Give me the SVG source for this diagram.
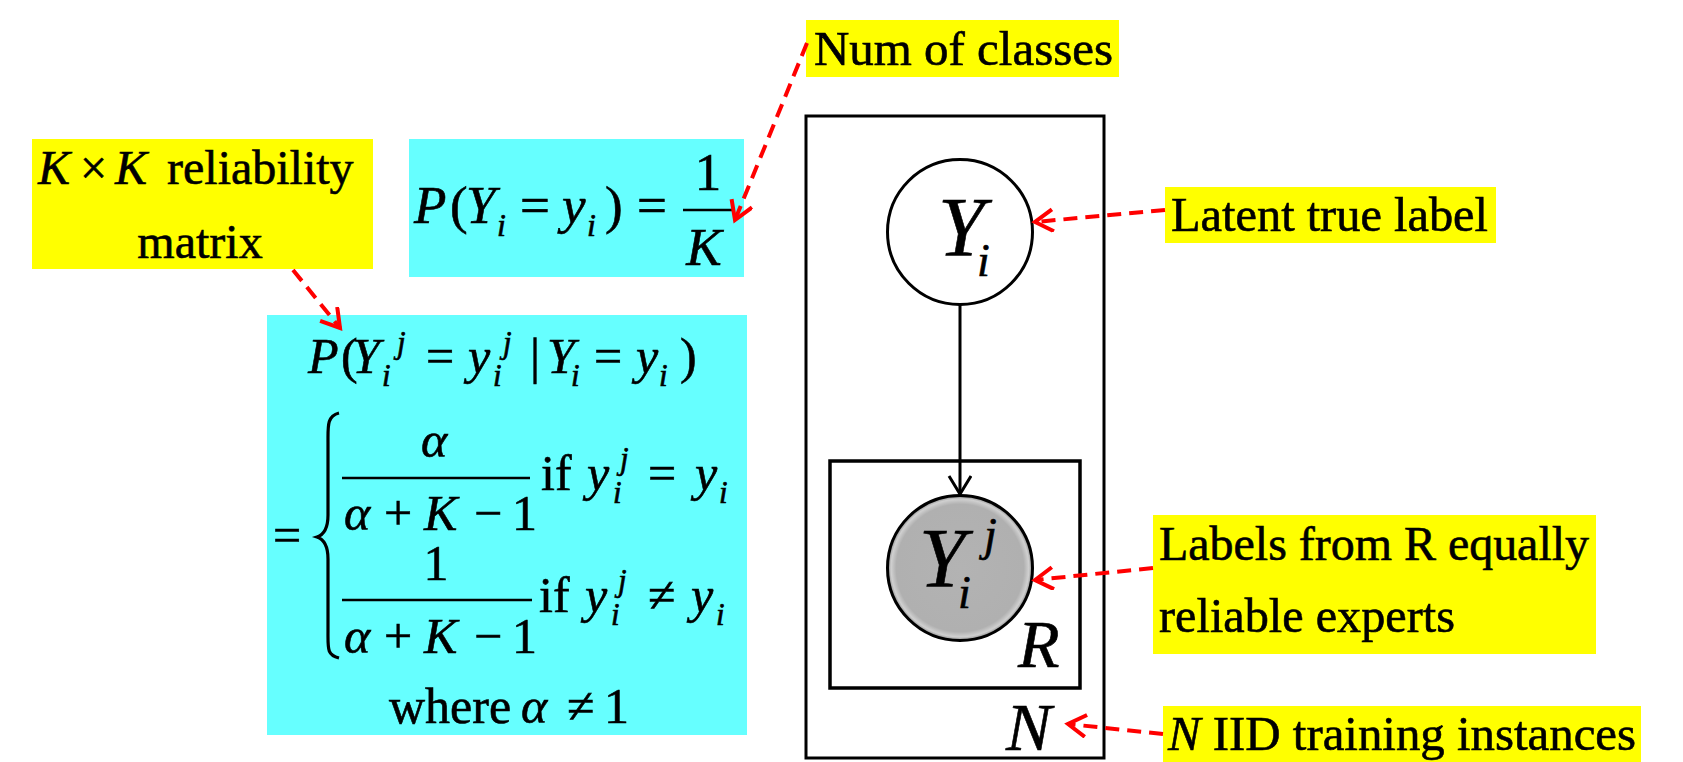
<svg xmlns="http://www.w3.org/2000/svg" width="1683" height="762" viewBox="0 0 1683 762">
<style>
.t{font-family:"Liberation Serif","Times New Roman",serif;fill:#000;stroke:#000;stroke-width:0.6}
.i{font-style:italic}
.lab{font-size:48px}
.m{font-size:50px}
.s{font-size:31px}
.yel{fill:#ffff00}
.cy{fill:#66ffff}
.plate{fill:none;stroke:#000;stroke-width:3.5}
.red{fill:none;stroke:#ff0000;stroke-width:4;stroke-dasharray:14 8}
.frac{stroke:#000;stroke-width:2.4}
</style>
<defs>
<marker id="ra" markerUnits="userSpaceOnUse" markerWidth="30" markerHeight="30" refX="20" refY="12" orient="auto">
<path d="M2,1 L20,12 L2,23" fill="none" stroke="#ff0000" stroke-width="4"/>
</marker>
<marker id="ba" markerUnits="userSpaceOnUse" markerWidth="30" markerHeight="30" refX="20" refY="12" orient="auto">
<path d="M2,1 L20,12 L2,23" fill="none" stroke="#000" stroke-width="3"/>
</marker>
<radialGradient id="gg" cx="0.5" cy="0.5" r="0.5">
<stop offset="0" stop-color="#b3b3b3"/>
<stop offset="0.88" stop-color="#b0b0b0"/>
<stop offset="0.95" stop-color="#d0d0d0"/>
<stop offset="1" stop-color="#8a8a8a"/>
</radialGradient>
</defs>

<g id="kxk-label">
<rect class="yel" x="32" y="139" width="341" height="130"/>
<text class="t lab" y="184"><tspan class="i" x="38">K</tspan><tspan x="80">×</tspan><tspan class="i" x="115">K</tspan><tspan x="167">reliability</tspan></text>
<text class="t lab" x="200" y="258" text-anchor="middle">matrix</text>
</g>

<g id="prior-formula">
<rect class="cy" x="409" y="139" width="335" height="138"/>
<text class="t" style="font-size:53px"><tspan class="i" x="414" y="223">P</tspan><tspan x="450" y="223">(</tspan><tspan class="i" x="466" y="223">Y</tspan><tspan class="i" style="font-size:32px" x="497" y="236">i</tspan><tspan x="520" y="223">=</tspan><tspan class="i" x="562" y="223">y</tspan><tspan class="i" style="font-size:32px" x="587" y="236">i</tspan><tspan x="605" y="223">)</tspan><tspan x="637" y="223">=</tspan></text>
<line class="frac" x1="683" y1="210" x2="733" y2="210"/>
<text class="t" style="font-size:53px" x="708" y="190" text-anchor="middle">1</text>
<text class="t i" style="font-size:53px" x="704" y="265" text-anchor="middle">K</text>
</g>

<g id="num-classes-label">
<rect class="yel" x="806" y="20" width="313" height="57"/>
<text class="t lab" x="814" y="65" textLength="299" lengthAdjust="spacingAndGlyphs">Num of classes</text>
</g>

<g id="reliability-formula">
<rect class="cy" x="267" y="315" width="480" height="420"/>
<text class="t m"><tspan class="i" x="308" y="373">P</tspan><tspan x="341" y="373">(</tspan><tspan class="i" x="352" y="373">Y</tspan><tspan class="i s" x="382" y="386">i</tspan><tspan class="i s" x="397" y="353">j</tspan><tspan x="426" y="373">=</tspan><tspan class="i" x="468" y="373">y</tspan><tspan class="i s" x="493" y="386">i</tspan><tspan class="i s" x="503" y="353">j</tspan><tspan x="530" y="373">|</tspan><tspan class="i" x="547" y="373">Y</tspan><tspan class="i s" x="571" y="386">i</tspan><tspan x="594" y="373">=</tspan><tspan class="i" x="636" y="373">y</tspan><tspan class="i s" x="659" y="386">i</tspan><tspan x="680" y="373">)</tspan></text>

<text class="t m" x="273" y="552">=</text>
<path d="M339,413 C327,416 328,426 328,442 L328,515 C328,530 323,535 317,537 C323,539 328,544 328,559 L328,632 C328,649 327,655 339,658" fill="none" stroke="#000" stroke-width="3.2"/>

<text class="t i m" x="434" y="457" text-anchor="middle">α</text>
<line class="frac" x1="342" y1="478" x2="530" y2="478"/>
<text class="t m" y="530"><tspan class="i" x="344">α</tspan><tspan x="384">+</tspan><tspan class="i" x="424">K</tspan><tspan x="474">−</tspan><tspan x="512">1</tspan></text>
<text class="t m"><tspan x="541" y="490">if</tspan><tspan class="i" x="587" y="490">y</tspan><tspan class="i s" x="613" y="503">i</tspan><tspan class="i s" x="620" y="469">j</tspan><tspan x="648" y="490">=</tspan><tspan class="i" x="695" y="490">y</tspan><tspan class="i s" x="719" y="503">i</tspan></text>

<text class="t m" x="436" y="580" text-anchor="middle">1</text>
<line class="frac" x1="342" y1="600" x2="532" y2="600"/>
<text class="t m" y="653"><tspan class="i" x="344">α</tspan><tspan x="384">+</tspan><tspan class="i" x="424">K</tspan><tspan x="474">−</tspan><tspan x="512">1</tspan></text>
<text class="t m"><tspan x="539" y="612">if</tspan><tspan class="i" x="585" y="612">y</tspan><tspan class="i s" x="611" y="625">i</tspan><tspan class="i s" x="618" y="591">j</tspan><tspan x="648" y="612">≠</tspan><tspan class="i" x="691" y="612">y</tspan><tspan class="i s" x="716" y="625">i</tspan></text>

<text class="t m" y="723"><tspan x="389">where</tspan><tspan class="i" x="521">α</tspan><tspan x="567">≠</tspan><tspan x="604">1</tspan></text>
</g>

<g id="plate-N">
<rect class="plate" x="806" y="116" width="298" height="642" style="stroke-width:3"/>
<text class="t i" style="font-size:68px" x="1006" y="750">N</text>
</g>

<g id="plate-R">
<rect class="plate" x="830" y="461" width="250" height="227"/>
<text class="t i" style="font-size:68px" x="1018" y="667">R</text>
</g>

<g id="node-Yi">
<circle cx="960" cy="232" r="72.5" fill="#fff" stroke="#000" stroke-width="3"/>
<text class="t i"><tspan style="font-size:84px" x="938" y="256">Y</tspan><tspan style="font-size:46px" x="977" y="276">i</tspan></text>
</g>

<g id="node-Yij">
<circle cx="960" cy="568" r="72.5" fill="url(#gg)" stroke="#000" stroke-width="3"/>
<text class="t i"><tspan style="font-size:84px" x="919" y="587">Y</tspan><tspan style="font-size:46px" x="958" y="608">i</tspan><tspan style="font-size:46px" x="984" y="550">j</tspan></text>
</g>

<g id="latent-label">
<rect class="yel" x="1165" y="187" width="331" height="56"/>
<text class="t lab" x="1171" y="231" textLength="317" lengthAdjust="spacingAndGlyphs">Latent true label</text>
</g>

<g id="labels-label">
<rect class="yel" x="1153" y="515" width="443" height="139"/>
<text class="t lab" x="1159" y="560" textLength="430" lengthAdjust="spacingAndGlyphs">Labels from R equally</text>
<text class="t lab" x="1159" y="632" textLength="296" lengthAdjust="spacingAndGlyphs">reliable experts</text>
</g>

<g id="niid-label">
<rect class="yel" x="1163" y="706" width="478" height="56"/>
<text class="t lab" x="1168" y="750" textLength="468" lengthAdjust="spacingAndGlyphs"><tspan class="i">N</tspan> IID training instances</text>
</g>

<g id="connectors">
<line x1="960" y1="305" x2="960" y2="494" stroke="#000" stroke-width="3" marker-end="url(#ba)"/>
<line class="red" x1="807" y1="43" x2="735" y2="220" marker-end="url(#ra)"/>
<line class="red" x1="293" y1="270" x2="340" y2="328" marker-end="url(#ra)"/>
<line class="red" x1="1165" y1="210" x2="1035" y2="222" marker-end="url(#ra)"/>
<line class="red" x1="1153" y1="568" x2="1035" y2="580" marker-end="url(#ra)"/>
<line class="red" x1="1163" y1="734" x2="1068" y2="724" marker-end="url(#ra)"/>
</g>
</svg>
